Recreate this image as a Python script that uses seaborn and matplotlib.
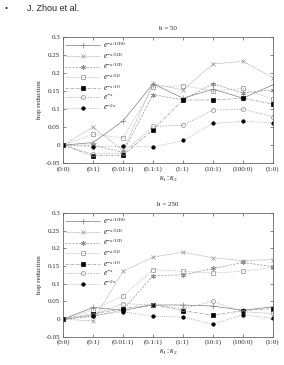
import numpy as np
import pandas as pd
import matplotlib
matplotlib.use("Agg")
import matplotlib.pyplot as plt
import seaborn as sns

# категории по оси x
ratios = ["(0:0)", "(0:1)", "(0.01:1)", "(0.1:1)", "(1:1)", "(10:1)", "(100:0)", "(1:0)"]
labels = [r"$e^{-x/1000}$", r"$e^{-x/500}$", r"$e^{-x/100}$", r"$e^{-x/50}$",
          r"$e^{-x/10}$", r"$e^{-x}$", r"$e^{-2x}$"]

# h = 50
h50_1000 = [0, 0.007, 0.067, 0.170, 0.130, 0.155, 0.130, 0.167]
h50_500 = [0, 0.050, -0.015, 0.170, 0.153, 0.225, 0.232, 0.187]
h50_100 = [0, 0.000, -0.020, 0.140, 0.125, 0.170, 0.145, 0.153]
h50_50 = [0, 0.030, 0.020, 0.160, 0.165, 0.150, 0.157, 0.127]
h50_10 = [0, -0.030, -0.028, 0.043, 0.125, 0.125, 0.130, 0.114]
h50_1 = [0, -0.025, -0.022, 0.052, 0.055, 0.097, 0.099, 0.079]
h50_2x = [0, -0.005, -0.003, -0.005, 0.013, 0.060, 0.066, 0.062]

# h = 250
h250_1000 = [0, 0.033, 0.025, 0.040, 0.040, 0.037, 0.025, 0.035]
h250_500 = [0, -0.005, 0.135, 0.175, 0.189, 0.173, 0.165, 0.168]
h250_100 = [0, 0.008, 0.026, 0.123, 0.125, 0.143, 0.160, 0.148]
h250_50 = [0, 0.026, 0.066, 0.140, 0.135, 0.130, 0.135, 0.146]
h250_10 = [0, 0.015, 0.030, 0.041, 0.024, 0.011, 0.024, 0.030]
h250_1 = [0, 0.012, 0.044, 0.040, 0.030, 0.050, 0.021, 0.016]
h250_2x = [0, 0.010, 0.021, 0.008, 0.006, -0.014, 0.012, 0.002]

panels = [("h = 50", [h50_1000, h50_500, h50_100, h50_50, h50_10, h50_1, h50_2x]),
          ("h = 250", [h250_1000, h250_500, h250_100, h250_50, h250_10, h250_1, h250_2x])]

# стиль линий в духе gnuplot
styles = [
    dict(linestyle="-", marker="+", color="#808080", mfc="#808080", mec="#808080", ms=4),
    dict(linestyle=(0, (1, 1)), marker="x", color="#909090", mfc="#909090", mec="#909090", ms=3),
    dict(linestyle=(0, (3, 2)), marker=(6, 2, 0), color="#909090", mfc="#909090", mec="#909090", ms=3.5),
    dict(linestyle=(0, (1, 1.5)), marker="s", color="#a0a0a0", mfc="none", mec="#909090", ms=3),
    dict(linestyle=(0, (4, 1.5, 1, 1.5)), marker="s", color="#909090", mfc="black", mec="black", ms=3),
    dict(linestyle=(0, (2, 2)), marker="o", color="#a0a0a0", mfc="none", mec="#909090", ms=3),
    dict(linestyle=(0, (1, 2)), marker="o", color="#808080", mfc="black", mec="black", ms=2.5),
]

sns.set_style("ticks")
plt.rcParams["font.family"] = ["Liberation Serif", "DejaVu Serif"]
plt.rcParams["mathtext.fontset"] = "custom"
plt.rcParams["mathtext.rm"] = "Liberation Serif"
plt.rcParams["mathtext.it"] = "Liberation Serif:italic"
plt.rcParams["axes.unicode_minus"] = False

fig = plt.figure(figsize=(2.84, 3.65), dpi=100)
fig.text(0.018, 0.987, "\u2022", fontsize=6, family="Liberation Sans", va="top")
fig.text(0.095, 0.990, "J. Zhou et al.", fontsize=6.5, family="Liberation Sans", va="top")

rects = [[0.222, 0.553, 0.739, 0.346], [0.222, 0.077, 0.739, 0.340]]
x = np.arange(len(ratios))

for rect, (title, series) in zip(rects, panels):
    ax = fig.add_axes(rect)
    for vals, lab, st in zip(series, labels, styles):
        sns.lineplot(x=x, y=vals, ax=ax, label=lab, linewidth=0.5,
                     linestyle=st["linestyle"], color=st["color"], marker=st["marker"],
                     markersize=st["ms"], markerfacecolor=st["mfc"],
                     markeredgecolor=st["mec"], markeredgewidth=0.5)
    ax.set_xlim(0, len(ratios) - 1)
    ax.set_ylim(-0.05, 0.3)
    ax.set_xticks(x)
    ax.set_xticklabels(ratios, fontsize=5)
    ax.set_yticks(np.arange(-0.05, 0.301, 0.05))
    ax.yaxis.set_major_formatter(matplotlib.ticker.FormatStrFormatter("%g"))
    ax.tick_params(direction="in", top=True, right=True, length=2.5, width=0.5,
                   labelsize=5, pad=2, color="#555555")
    for sp in ax.spines.values():
        sp.set_linewidth(0.6)
        sp.set_color("#666666")
    ax.set_title(title, fontsize=5, pad=5)
    ax.set_xlabel(r"$\kappa_1{:}\kappa_2$", fontsize=5.5, labelpad=2)
    ax.set_ylabel("hop reduction", fontsize=5, labelpad=3)
    ax.legend(loc="upper left", frameon=False, fontsize=5.5, handlelength=4.5,
              handletextpad=0.4, labelspacing=-0.05, borderaxespad=0.2,
              borderpad=0.1)

fig.savefig("out.png", dpi=100)
